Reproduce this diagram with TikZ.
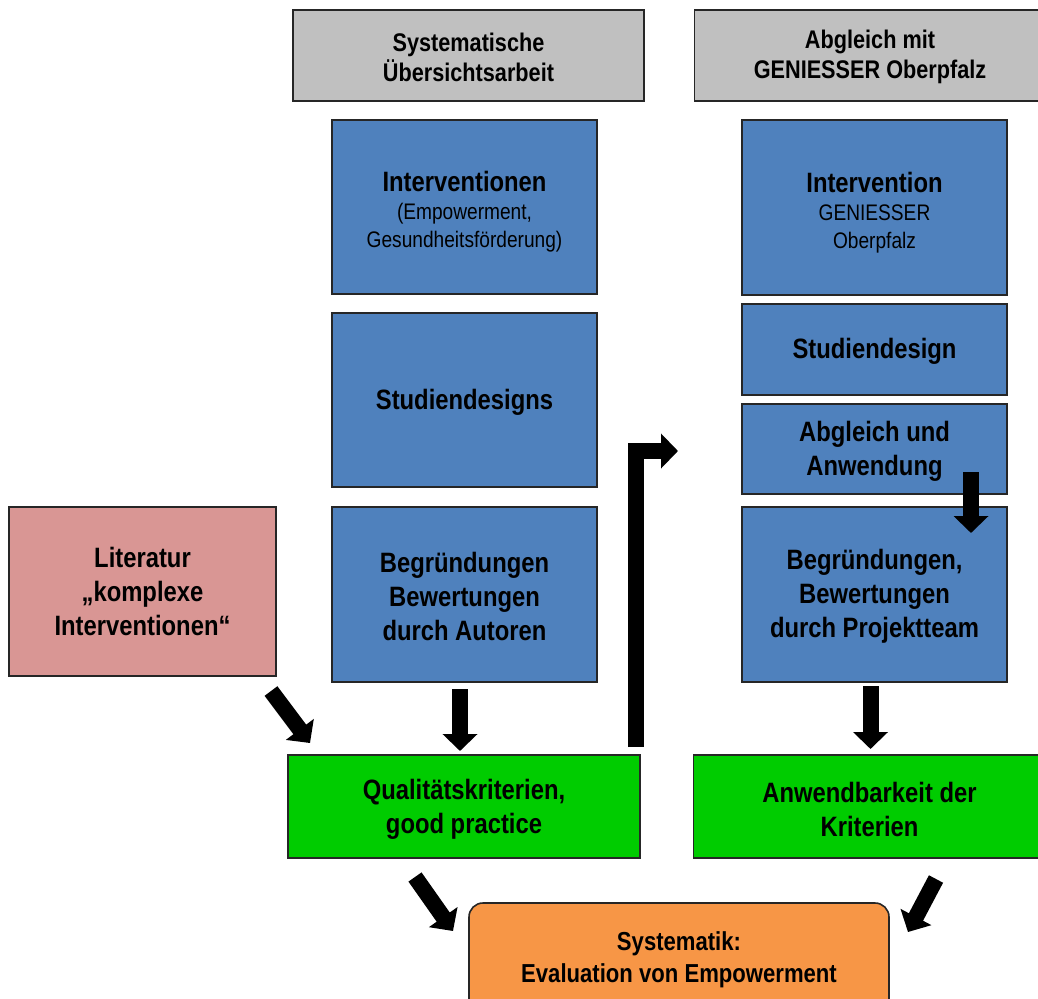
\documentclass[tikz,border=0pt]{standalone}
\usepackage{fontspec}
\setmainfont{Liberation Sans}[FakeStretch=0.85]
\usetikzlibrary{arrows.meta}

\definecolor{headgray}{RGB}{192,192,192}
\definecolor{boxblue}{RGB}{79,129,189}
\definecolor{boxpink}{RGB}{217,150,148}
\definecolor{boxgreen}{RGB}{0,204,0}
\definecolor{boxorange}{RGB}{247,150,70}

\begin{document}
\begin{tikzpicture}[x=1pt,y=-1pt,
    box/.style={draw=black!85,line width=1.6pt,align=center,inner sep=0pt,
                font=\bfseries\fontsize{28}{34}\selectfont},
    head/.style={box,fill=headgray,minimum width=351pt,minimum height=91pt,
                 font=\bfseries\fontsize{25.5}{30}\selectfont},
    blue/.style={box,fill=boxblue,minimum width=265pt},
    sub/.style={box,fill=boxblue,minimum width=265pt,font=\fontsize{22.5}{28}\selectfont},
    result/.style={box,fill=boxgreen,minimum width=352pt,minimum height=103pt},
    fat/.style={line width=16pt,line join=miter,-{Triangle[length=17pt,width=34pt]}}]

    \useasboundingbox (0,0) rectangle (1038,998);

    % headers
    \node[head] (review) at (468.5,55.5) {\rule{0pt}{22pt}Systematische\\Übersichtsarbeit};
    \node[head] (match)  at (870,55.5)   {\rule{0pt}{22pt}Abgleich mit\\GENIESSER Oberpfalz};

    % left column
    \node[sub,minimum height=174pt] (interv) at (464.5,207)
        {\rule{0pt}{30pt}{\bfseries\fontsize{28}{30}\selectfont Interventionen}\\(Empowerment,\\Gesundheitsförderung)};
    \node[blue,minimum height=174pt] (designs) at (464.5,400) {\rule{0pt}{24pt}Studiendesigns};
    \node[blue,minimum height=175pt] (authors) at (464.5,594.5)
        {\rule{0pt}{24pt}Begründungen\\Bewertungen\\durch Autoren};

    % right column
    \node[sub,minimum height=175pt] (gen) at (874.5,207.5)
        {\rule{0pt}{30pt}{\bfseries\fontsize{28}{30}\selectfont Intervention}\\GENIESSER\\Oberpfalz};
    \node[blue,minimum height=91pt] (design) at (874.5,349.5) {\rule{0pt}{24pt}Studiendesign};
    \node[blue,minimum height=90pt] (apply) at (874.5,449) {\rule{0pt}{24pt}Abgleich und\\Anwendung};
    \node[blue,minimum height=175pt] (team) at (874.5,594.5)
        {\rule{0pt}{24pt}Begründungen,\\Bewertungen\\durch Projektteam};

    % literature
    \node[box,fill=boxpink,minimum width=267pt,minimum height=169pt] (lit) at (142.5,591.5)
        {Literatur\\„komplexe\\Interventionen“};

    % results
    \node[result] (quality) at (464,806.5) {\rule{0pt}{26pt}Qualitätskriterien,\\good practice};
    \node[result] (usable)  at (869.5,806.5) {\rule{0pt}{26pt}Anwendbarkeit der\\Kriterien};

    \node[box,fill=boxorange,rounded corners=14pt,minimum width=420pt,minimum height=114pt,
          font=\bfseries\fontsize{26}{32}\selectfont] (system) at (679,960)
        {Systematik:\\Evaluation von Empowerment};

    % arrow ends
    \coordinate (litA) at (271,691);   \coordinate (litB) at (310,743);
    \coordinate (autA) at (460,689);   \coordinate (autB) at (460,751);
    \coordinate (teamA) at (870.5,686); \coordinate (teamB) at (870.5,749);
    \coordinate (appA) at (971,472);   \coordinate (appB) at (971,533);
    \coordinate (bendA) at (636,747);  \coordinate (bendB) at (678,451);
    \coordinate (qualA) at (415,877);  \coordinate (qualB) at (453,931);
    \coordinate (useA) at (936,879);   \coordinate (useB) at (908,932);

    \draw[fat] (litA) -- (litB);
    \draw[fat] (autA) -- (autB);
    \draw[fat] (teamA) -- (teamB);
    \draw[fat] (appA) -- (appB);
    \draw[fat] (bendA) |- (bendB);
    \draw[fat] (qualA) -- (qualB);
    \draw[fat] (useA) -- (useB);
\end{tikzpicture}
\end{document}
